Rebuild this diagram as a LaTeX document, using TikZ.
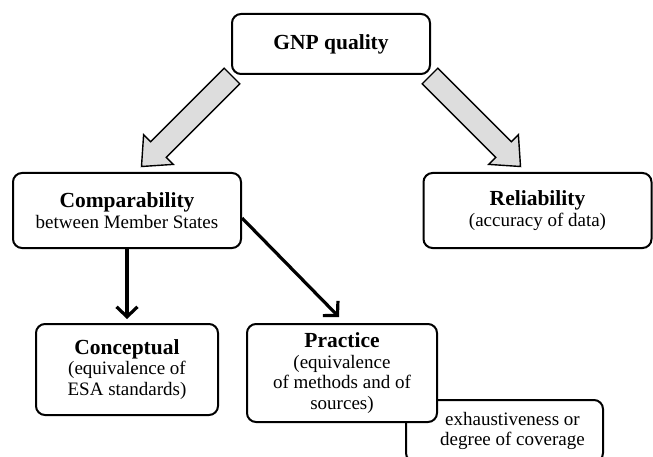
\documentclass[tikz,border=0pt]{standalone}
\usepackage{fontspec}
\setmainfont{Liberation Serif}
\usetikzlibrary{arrows.meta,calc}
\definecolor{arrowgray}{HTML}{DDDDDD}
\newcommand{\hd}[1]{{\fontsize{21.5}{25}\selectfont\bfseries #1}}
\begin{document}
\begin{tikzpicture}[x=1pt,y=-1pt,
  box/.style={draw=black,line width=2pt,rounded corners=9pt,fill=white,
    align=center,inner sep=0pt,font=\fontsize{19}{20.5}\selectfont},
  conn/.style={line width=3.2pt,-{Straight Barb[length=10pt,width=21pt,line width=3.2pt]}},
  blockarrow/.pic={\draw[fill=arrowgray,line width=1.4pt,line join=miter]
    (0,11)--(104,11)--(104,21)--(128,0)--(104,-21)--(104,-11)--(0,-11)--cycle;}]
\useasboundingbox (0,0) rectangle (653,457);

\node[box,minimum width=198pt,minimum height=60pt] (gnp) at (331,44) {\hd{GNP quality}};
\node[box,minimum width=228pt,minimum height=75pt] (comp) at (127,210.5)
  {\hd{Comparability}\\between Member States};
\node[box,minimum width=228pt,minimum height=75pt] (rel) at (537.5,210.5)
  {\hd{Reliability}\\(accuracy of data)};
\node[box,minimum width=182pt,minimum height=91pt] (concept) at (127,369.5)
  {\hd{Conceptual}\\(equivalence of\\ESA standards)};
\node[box,minimum width=197pt,minimum height=62pt] (exh) at (504.5,431) {};
\node[font=\fontsize{19}{20.5}\selectfont,align=center,inner sep=0pt] (exhtext)
  at ($(exh.center)+(8,0)$) {exhaustiveness or\\degree of coverage};
\node[box,minimum width=190pt,minimum height=98pt] (practice) at (342,373)
  {\hd{Practice}\\(equivalence\\of methods and of\\sources)};

\coordinate (lt) at ($(gnp.south west)+(1,1)$);
\coordinate (rt) at ($(gnp.south east)+(-1,1)$);
\pic[rotate=-135] at (lt) {blockarrow};
\pic[rotate=-45] at (rt) {blockarrow};

\draw[conn,shorten >=4pt] (comp.south) -- (concept.north);
\draw[conn] ($(comp.east)+(0,7.5)$) -- ($(practice.north)+(-3,-6)$);
\end{tikzpicture}
\end{document}
